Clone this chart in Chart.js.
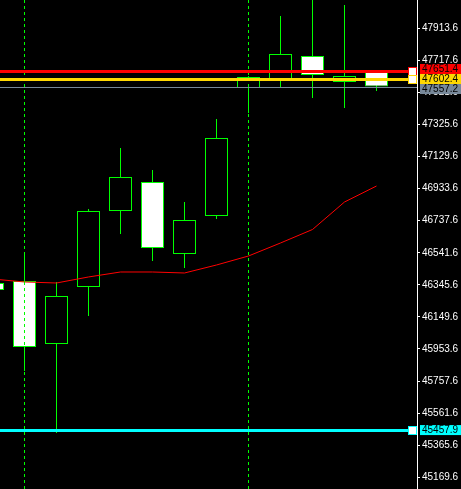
<!DOCTYPE html>
<html>
<head>
<meta charset="utf-8">
<script src="https://cdn.jsdelivr.net/npm/chart.js@4.4.0/dist/chart.umd.min.js"></script>
<style>
  html, body { margin: 0; padding: 0; background: #000; }
  #wrap { width: 461px; height: 489px; }
</style>
</head>
<body>
<div id="wrap"><canvas id="chart"></canvas></div>
<script>
// candle 0 is the one cut off at the left edge
const candleOpen  = [46356.9, 46369.1, 45984.0, 46332.4, 46796.9, 46974.2, 46534.1, 46766.4, 47548.7, 47603.7, 47744.3, 47585.4, 47652.6];
const candleHigh  = [46400.0, 46540.3, 46363.0, 46809.2, 47182.0, 47047.5, 46851.9, 47359.2, 47622.0, 47988.8, 48110.0, 48056.0, 47658.7];
const candleLow   = [46280.0, 45819.0, 45440.1, 46155.2, 46656.4, 46491.3, 46448.6, 46748.0, 47395.9, 47548.7, 47487.6, 47426.5, 47530.4];
const candleClose = [46314.1, 45965.7, 46277.4, 46796.9, 47004.8, 46570.8, 46741.9, 47243.1, 47615.9, 47756.5, 47628.2, 47622.1, 47557.2];
const maValues    = [46381.3, 46363.0, 46356.9, 46393.6, 46424.1, 46424.1, 46418.0, 46466.9, 46521.9, 46601.4, 46683.9, 46851.9, 46949.7];
const separatorIdx = [1, 8];
const yTicks = [45169.6, 45365.6, 45561.6, 45757.6, 45953.6, 46149.6, 46345.6, 46541.6,
                46737.6, 46933.6, 47129.6, 47325.6, 47521.6, 47717.6, 47913.6];
const levelValues = [47651.4, 47602.4, 47557.2, 45457.9];

const levelColors = ['#ff0000', '#ffd700', '#778899', '#00ffff'];
const levelWidths = [3, 3, 1, 3];
const green = '#00ff00';

// one candle slot is 32px, plot is 417px wide
const xMin = 1 - 24.5 / 32;
const xMax = xMin + 417 / 32;
const yMin = 45097.7, yMax = 48086.6;

const wicks = candleHigh.map((h, i) => ({ x: i, y: [candleLow[i], h] }));
const bodies = candleOpen.map((o, i) => ({ x: i, y: [o, candleClose[i]] }));
const bodyFill = candleOpen.map((o, i) => candleClose[i] < o ? '#ffffff' : '#000000');
const maPoints = maValues.map((v, i) => ({ x: i, y: v }));

const levelPlugin = {
  id: 'levels',
  afterDraw(chart) {
    const { ctx, chartArea: a, scales: { y } } = chart;
    ctx.save();
    levelValues.forEach((v, i) => {
      const py = Math.round(y.getPixelForValue(v)) + 0.5;
      ctx.strokeStyle = levelColors[i];
      ctx.lineWidth = levelWidths[i];
      ctx.beginPath();
      ctx.moveTo(a.left, py);
      ctx.lineTo(levelWidths[i] > 1 ? a.right - 6 : a.right, py);
      ctx.stroke();
      if (levelWidths[i] > 1) {
        // selected-object handle
        ctx.fillStyle = '#fff';
        ctx.fillRect(a.right - 9, py - 4.5, 9, 9);
        ctx.lineWidth = 1;
        ctx.strokeRect(a.right - 8.5, py - 4, 8, 8);
      }
    });

    // price tags on the axis, pushed apart where they overlap
    const h = 10;
    const tags = levelValues.map((v, i) => ({ i, c: y.getPixelForValue(v) }));
    tags.sort((p, q) => p.c - q.c);
    for (let k = 0; k < 30; k++) {
      for (let j = 1; j < tags.length; j++) {
        const d = tags[j].c - tags[j - 1].c;
        if (d < h) {
          const s = (h - d) / 2;
          tags[j - 1].c -= s;
          tags[j].c += s;
        }
      }
    }
    ctx.font = '10px "Liberation Sans"';
    ctx.textBaseline = 'middle';
    ctx.textAlign = 'left';
    tags.forEach(t => {
      const label = levelValues[t.i].toFixed(1);
      const w = ctx.measureText(label).width;
      ctx.fillStyle = levelColors[t.i];
      ctx.fillRect(a.right + 3, t.c - h / 2, w + 5, h);
      ctx.fillStyle = '#000';
      ctx.fillText(label, a.right + 5, t.c + 0.5);
    });
    ctx.restore();
  }
};

new Chart(document.getElementById('chart'), {
  type: 'bar',
  data: {
    datasets: [
      {
        type: 'line',
        data: maPoints,
        borderColor: '#ff0000',
        borderWidth: 1,
        pointRadius: 0,
        tension: 0
      },
      {
        data: bodies,
        backgroundColor: bodyFill,
        borderColor: green,
        borderWidth: 1,
        borderSkipped: false,
        barThickness: 23,
        grouped: false,
        inflateAmount: 0
      },
      {
        data: wicks,
        backgroundColor: green,
        borderWidth: 0,
        barThickness: 1,
        grouped: false,
        inflateAmount: 0
      }
    ]
  },
  options: {
    responsive: true,
    maintainAspectRatio: false,
    animation: false,
    events: [],
    layout: { padding: 0 },
    plugins: {
      legend: { display: false },
      tooltip: { enabled: false }
    },
    scales: {
      x: {
        type: 'linear',
        min: xMin,
        max: xMax,
        offset: false,
        afterBuildTicks: s => { s.ticks = separatorIdx.map(v => ({ value: v })); },
        ticks: { display: false },
        grid: { color: green, drawTicks: false, offset: false, z: 1 },
        border: { display: false, dash: [3, 3] }
      },
      y: {
        position: 'right',
        min: yMin,
        max: yMax,
        afterBuildTicks: s => { s.ticks = yTicks.map(v => ({ value: v })); },
        afterFit: s => { s.width = 44; s.paddingTop = 0; s.paddingBottom = 0; },
        ticks: {
          color: '#fff',
          padding: 2,
          autoSkip: false,
          font: { family: 'Liberation Sans', size: 10 },
          callback: v => v.toFixed(1)
        },
        grid: { drawOnChartArea: false, color: '#fff', tickLength: 3 },
        border: { color: '#fff' }
      }
    }
  },
  plugins: [levelPlugin]
});
</script>
</body>
</html>
